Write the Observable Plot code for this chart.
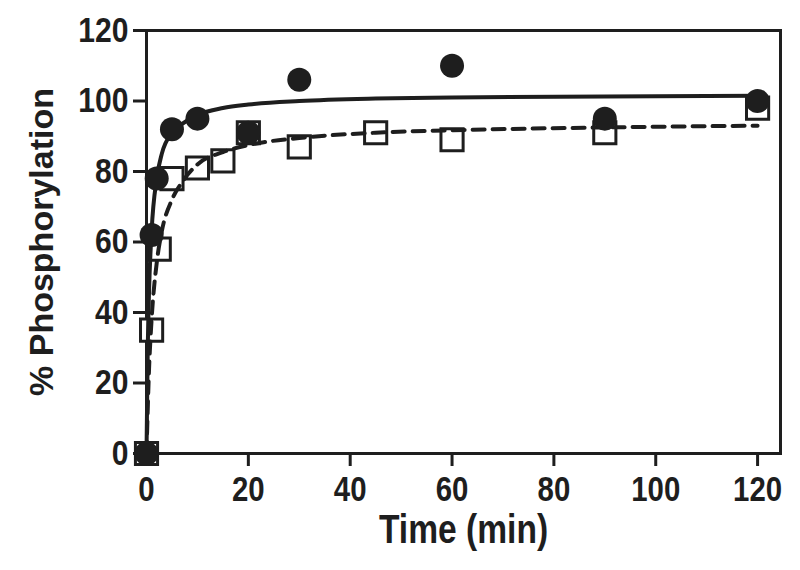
<!DOCTYPE html>
<html>
<head>
<meta charset="utf-8">
<script src="https://cdn.jsdelivr.net/npm/d3@7"></script>
<script src="https://cdn.jsdelivr.net/npm/@observablehq/plot@0.6"></script>
<style>
  html, body { margin: 0; padding: 0; background: #fff; }
  #chart { width: 800px; height: 570px; }
</style>
</head>
<body>
<div id="chart"></div>
<script>
// Filled circles (solid fit)
const timeCircle = [0, 1, 2, 5, 10, 20, 30, 60, 90, 120];
const pctCircle  = [0, 62, 78, 92, 95, 91, 106, 110, 95, 100];

// Open squares (dashed fit)
const timeSquare = [0, 1, 2.5, 5, 10, 15, 20, 30, 45, 60, 90, 120];
const pctSquare  = [0, 35, 58, 78, 81, 83, 91, 87, 91, 89, 91, 98];

// Fitted curves
const timeSolidFit = [0, 0.25, 0.5, 1, 2, 3, 5, 7, 10, 15, 20, 30, 45, 60, 90, 120];
const pctSolidFit  = [0, 30, 46, 63, 78, 85, 91, 93.5, 96, 98, 99, 100, 100.7, 101, 101.3, 101.5];

const timeDashFit = [0, 0.5, 1, 2, 3, 5, 7, 10, 15, 20, 30, 45, 60, 90, 120];
const pctDashFit  = [0, 24, 38, 54, 63, 72, 77, 82, 85.5, 87.5, 89.5, 91, 91.7, 92.5, 93];

const xTicks = [0, 20, 40, 60, 80, 100, 120];
const yTicks = [0, 20, 40, 60, 80, 100, 120];

const circles = timeCircle.map((t, i) => ({t, p: pctCircle[i]}));
const squares = timeSquare.map((t, i) => ({t, p: pctSquare[i]}));
const solidFit = timeSolidFit.map((t, i) => ({t, p: pctSolidFit[i]}));
const dashFit = timeDashFit.map((t, i) => ({t, p: pctDashFit[i]}));

const ink = "#1e1e1e";
const font = "'Liberation Sans', Arial, Helvetica, sans-serif";

const chart = Plot.plot({
  width: 800,
  height: 570,
  marginLeft: 146,
  marginRight: 20,
  marginTop: 30,
  marginBottom: 117,
  style: {fontFamily: font, fontWeight: "bold", color: ink, background: "#fff", overflow: "visible"},
  x: {domain: [0, 124.5]},
  y: {domain: [0, 120]},
  marks: [
    Plot.frame({stroke: ink, strokeWidth: 3}),
    Plot.axisY({ticks: yTicks, tickSize: 13, tickPadding: 5, strokeWidth: 3, stroke: ink, fill: ink,
                fontSize: 35, fontWeight: "bold", label: null}),
    Plot.axisX({ticks: xTicks, tickSize: 13, tickPadding: 10, strokeWidth: 3, stroke: ink, fill: ink,
                fontSize: 35, fontWeight: "bold", label: null}),
    Plot.text(["% Phosphorylation"], {frameAnchor: "left", dx: -104, rotate: -90, fontSize: 34,
                textAnchor: "middle", lineAnchor: "middle", fontWeight: "bold", fill: ink}),
    Plot.text(["Time (min)"], {frameAnchor: "bottom", dy: 77, lineAnchor: "middle", fontSize: 40,
                fontWeight: "bold", fill: ink}),
    Plot.dot(squares, {x: "t", y: "p", symbol: "square", r: 12.5, fill: "white", stroke: ink, strokeWidth: 3}),
    Plot.line(dashFit, {x: "t", y: "p", curve: "monotone-x", stroke: ink, strokeWidth: 4, strokeDasharray: "12,8"}),
    Plot.line(solidFit, {x: "t", y: "p", curve: "monotone-x", stroke: ink, strokeWidth: 4}),
    Plot.dot(circles, {x: "t", y: "p", r: 12, fill: ink, stroke: "none"})
  ]
});
document.getElementById("chart").appendChild(chart);

// Condense the lettering horizontally, like the narrow bold face of the original
function condense(texts, sx) {
  texts.forEach((t) => {
    const tr = t.getAttribute("transform") || "";
    t.setAttribute("transform", `${tr} scale(${sx},1)`);
  });
}
condense(chart.querySelectorAll('g[aria-label="y-axis tick label"] text'), 0.86);
condense(chart.querySelectorAll('g[aria-label="x-axis tick label"] text'), 0.84);
condense([...chart.querySelectorAll("text")].filter((t) => t.textContent === "Time (min)"), 0.84);
</script>
</body>
</html>
